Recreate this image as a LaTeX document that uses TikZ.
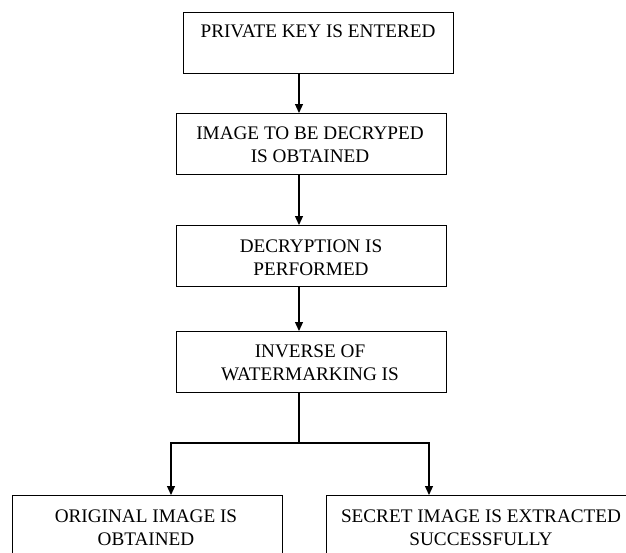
\documentclass[tikz,border=0pt]{standalone}
\usepackage{fontspec}
\setmainfont{Liberation Serif}
\usetikzlibrary{arrows.meta,calc}
\tikzset{
  stepbox/.style={draw=black, line width=1.1pt, rectangle, inner sep=0pt},
  caption/.style={anchor=base, align=center, inner sep=0pt,
    font=\fontsize{19.2}{23}\selectfont},
  flow/.style={draw=black, line width=1.2pt,
    -{Triangle[length=9pt,width=8pt]}},
  link/.style={draw=black, line width=1.2pt}
}
\begin{document}
\begin{tikzpicture}[x=1pt,y=-1pt]
  \useasboundingbox (0,0) rectangle (626,552);
  \fill[white] (0,0) rectangle (626,552);
  \clip (0,0) rectangle (626,552);

  % process boxes
  \node[stepbox, anchor=north west, minimum width=270pt, minimum height=61pt] (b1) at (183,12) {};
  \node[stepbox, anchor=north west, minimum width=270pt, minimum height=61pt] (b2) at (176,113) {};
  \node[stepbox, anchor=north west, minimum width=270pt, minimum height=61pt] (b3) at (176,225) {};
  \node[stepbox, anchor=north west, minimum width=270pt, minimum height=61pt] (b4) at (176,331) {};
  \node[stepbox, anchor=north west, minimum width=270pt, minimum height=80pt] (b5) at (12,495) {};
  \node[stepbox, anchor=north west, minimum width=400pt, minimum height=80pt] (b6) at (326,495) {};

  % box captions (base anchor sits on the last line)
  \node[caption] (t1) at (318,37) {PRIVATE KEY IS ENTERED};
  \node[caption] (t2) at (310,162) {IMAGE TO BE DECRYPED\\IS OBTAINED};
  \node[caption] (t3) at (311,275) {DECRYPTION IS\\PERFORMED};
  \node[caption] (t4) at (310,380) {INVERSE OF\\WATERMARKING IS};
  \node[caption] (t5) at (146,545) {ORIGINAL IMAGE IS\\OBTAINED};
  \node[caption] (t6) at (481,545) {SECRET IMAGE IS EXTRACTED\\SUCCESSFULLY};

  % connector columns
  \coordinate (ax) at (299,0);
  \coordinate (lx) at (171,0);
  \coordinate (rx) at (429,0);
  \coordinate (j) at (299,443);

  \draw[flow] (b1.south -| ax) -- (b2.north -| ax);
  \draw[flow] (b2.south -| ax) -- (b3.north -| ax);
  \draw[flow] (b3.south -| ax) -- (b4.north -| ax);
  \draw[link] (b4.south -| ax) -- (j);
  \draw[flow] (j) -| (b5.north -| lx);
  \draw[flow] (j) -| (b6.north -| rx);
\end{tikzpicture}
\end{document}
